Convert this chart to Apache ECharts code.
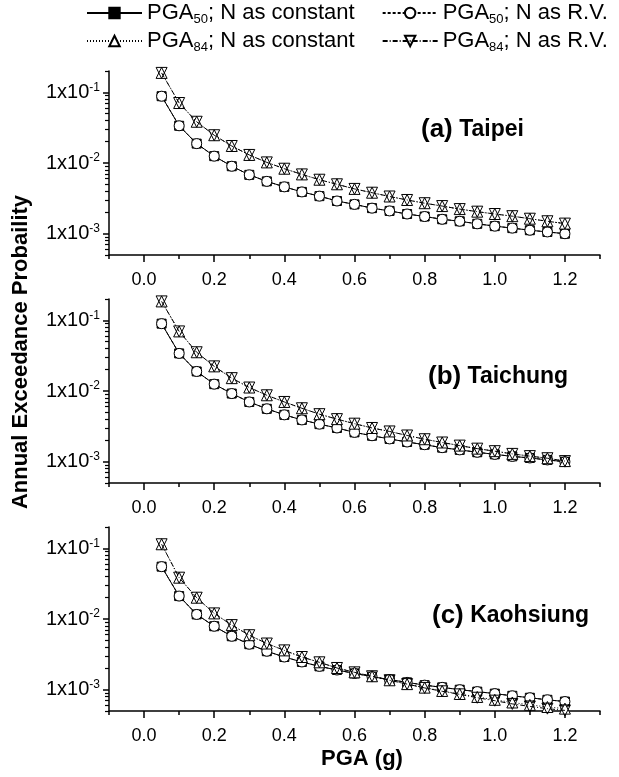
<!DOCTYPE html>
<html>
<head>
<meta charset="utf-8">
<script src="https://cdn.jsdelivr.net/npm/echarts@6/dist/echarts.min.js"></script>
<style>
  html, body { margin: 0; padding: 0; background: #fff; }
  #chart { width: 619px; height: 777px; }
</style>
</head>
<body>
<div id="chart"></div>
<script>
// Peak ground acceleration (g) at which the hazard curves are evaluated
const pga = [0.05, 0.10, 0.15, 0.20, 0.25, 0.30, 0.35, 0.40, 0.45, 0.50, 0.55, 0.60,
             0.65, 0.70, 0.75, 0.80, 0.85, 0.90, 0.95, 1.00, 1.05, 1.10, 1.15, 1.20];

// Annual exceedance probability — Taipei
const taipeiP50Const = [0.088, 0.0336, 0.0188, 0.0125, 0.0090, 0.0068, 0.0055, 0.0046, 0.0039, 0.0034, 0.0029, 0.0026,
                        0.0023, 0.0021, 0.0019, 0.00175, 0.0016, 0.0015, 0.00138, 0.00128, 0.0012, 0.00112, 0.00106, 0.0010];
const taipeiP50RV    = [0.088, 0.0336, 0.0188, 0.0125, 0.0090, 0.0068, 0.0055, 0.0046, 0.0039, 0.0034, 0.0029, 0.0026,
                        0.0023, 0.0021, 0.0019, 0.00175, 0.0016, 0.0015, 0.00138, 0.00128, 0.0012, 0.00112, 0.00106, 0.0010];
const taipeiP84Const = [0.188, 0.0705, 0.0383, 0.0247, 0.0174, 0.0130, 0.0102, 0.0083, 0.0069, 0.0058, 0.0050, 0.0043,
                        0.0038, 0.00336, 0.0030, 0.0027, 0.00246, 0.00223, 0.00205, 0.0019, 0.00177, 0.00163, 0.0015, 0.00139];
const taipeiP84RV    = [0.188, 0.0705, 0.0383, 0.0247, 0.0174, 0.0130, 0.0102, 0.0083, 0.0069, 0.0058, 0.0050, 0.0043,
                        0.0038, 0.00336, 0.0030, 0.0027, 0.00246, 0.00223, 0.00205, 0.0019, 0.00177, 0.00163, 0.0015, 0.00139];

// Annual exceedance probability — Taichung
const taichungP50Const = [0.0896, 0.034, 0.0189, 0.0125, 0.0092, 0.0070, 0.0056, 0.0046, 0.0039, 0.0034, 0.0030, 0.0026,
                          0.00233, 0.0021, 0.0019, 0.00174, 0.00158, 0.00147, 0.00136, 0.00127, 0.00119, 0.00113, 0.00106, 0.0010];
const taichungP50RV    = [0.0896, 0.034, 0.0189, 0.0125, 0.0092, 0.0070, 0.0056, 0.0046, 0.0039, 0.0034, 0.0030, 0.0026,
                          0.00233, 0.0021, 0.0019, 0.00174, 0.00158, 0.00147, 0.00136, 0.00127, 0.00119, 0.00113, 0.00106, 0.0010];
const taichungP84Const = [0.185, 0.0696, 0.0353, 0.0223, 0.0152, 0.0112, 0.0087, 0.0070, 0.0057, 0.0047, 0.0040, 0.00345,
                          0.0030, 0.00268, 0.00235, 0.00208, 0.00187, 0.00169, 0.00153, 0.00141, 0.00129, 0.0012, 0.00112, 0.00102];
const taichungP84RV    = [0.185, 0.0696, 0.0353, 0.0223, 0.0152, 0.0112, 0.0087, 0.0070, 0.0057, 0.0047, 0.0040, 0.00345,
                          0.0030, 0.00268, 0.00235, 0.00208, 0.00187, 0.00169, 0.00153, 0.00141, 0.00129, 0.0012, 0.00112, 0.00102];

// Annual exceedance probability — Kaohsiung
const kaohsiungP50Const = [0.055, 0.0211, 0.0116, 0.0079, 0.0057, 0.0044, 0.0035, 0.0029, 0.00247, 0.00214, 0.0019, 0.0017,
                           0.00153, 0.00139, 0.00127, 0.00116, 0.00108, 0.0010, 0.00094, 0.00088, 0.00082, 0.00077, 0.00072, 0.00068];
const kaohsiungP50RV    = [0.055, 0.0211, 0.0116, 0.0079, 0.0057, 0.0044, 0.0035, 0.0029, 0.00247, 0.00214, 0.0019, 0.0017,
                           0.00153, 0.00139, 0.00127, 0.00116, 0.00108, 0.0010, 0.00094, 0.00088, 0.00082, 0.00077, 0.00072, 0.00068];
const kaohsiungP84Const = [0.114, 0.0384, 0.020, 0.012, 0.0082, 0.0059, 0.0045, 0.0036, 0.0029, 0.00244, 0.00203, 0.00176,
                           0.00155, 0.00136, 0.0012, 0.00107, 0.00096, 0.00087, 0.00079, 0.00072, 0.00066, 0.00061, 0.00057, 0.00054];
const kaohsiungP84RV    = [0.114, 0.0384, 0.020, 0.012, 0.0082, 0.0059, 0.0045, 0.0036, 0.0029, 0.00244, 0.00203, 0.00176,
                           0.00155, 0.00136, 0.0012, 0.00106, 0.00095, 0.00086, 0.00077, 0.0007, 0.00063, 0.00058, 0.00054, 0.00051];

// Axis tick positions
const xMajorTicks = [0, 0.2, 0.4, 0.6, 0.8, 1.0, 1.2];
const xMinorTicks = [-0.1, 0.1, 0.3, 0.5, 0.7, 0.9, 1.1, 1.3];
const yMajorTicks = [0.001, 0.01, 0.1];
const yMinorTicks = [0.0005, 0.0006, 0.0007, 0.0008, 0.0009,
                     0.002, 0.003, 0.004, 0.005, 0.006, 0.007, 0.008, 0.009,
                     0.02, 0.03, 0.04, 0.05, 0.06, 0.07, 0.08, 0.09, 0.2];

const panelTitles = [['(a)', 'Taipei'], ['(b)', 'Taichung'], ['(c)', 'Kaohsiung']];
const panelData = [
  [taipeiP50Const, taipeiP50RV, taipeiP84Const, taipeiP84RV],
  [taichungP50Const, taichungP50RV, taichungP84Const, taichungP84RV],
  [kaohsiungP50Const, kaohsiungP50RV, kaohsiungP84Const, kaohsiungP84RV]
];

const seriesNames = ['p50c', 'p50rv', 'p84c', 'p84rv'];
const legendText = {
  p50c:  '{m|PGA}{s|50}{m|; N as constant}',
  p50rv: '{m|PGA}{s|50}{m|; N as R.V.}',
  p84c:  '{m|PGA}{s|84}{m|; N as constant}',
  p84rv: '{m|PGA}{s|84}{m|; N as R.V.}'
};

const FONT = 'Liberation Sans, Arial, Helvetica, sans-serif';
const INK = '#000';

const gridTops = [71, 299, 527];
const gridHeight = 184;

const seriesStyle = [
  { symbol: 'rect', symbolSize: 9, fill: INK, dash: 'solid' },
  { symbol: 'circle', symbolSize: 10, fill: '#fff', dash: [3, 2] },
  { symbol: 'triangle', symbolSize: 11, fill: '#fff', dash: [1, 2] },
  { symbol: 'path://M0,0 L10,0 L5,9 Z', symbolSize: 11, fill: 'rgba(255,255,255,0)', dash: [5, 2, 1, 2] }
];

const grids = [], xAxes = [], yAxes = [], series = [], titles = [];

gridTops.forEach((top, i) => {
  grids.push({ left: 109, right: 19, top: top, height: gridHeight });

  // labelled x axis with major ticks
  xAxes.push({
    gridIndex: i, type: 'value', position: 'bottom', min: -0.1, max: 1.3,
    axisLine: { show: true, onZero: false, lineStyle: { color: INK, width: 1.5 } },
    axisTick: { show: true, customValues: xMajorTicks, length: 7, lineStyle: { color: INK, width: 1.5 } },
    axisLabel: { customValues: xMajorTicks, formatter: v => v.toFixed(1), color: INK,
                 fontFamily: FONT, fontSize: 18, margin: 16 },
    splitLine: { show: false }
  });
  // minor ticks
  xAxes.push({
    gridIndex: i, type: 'value', position: 'bottom', min: -0.1, max: 1.3,
    axisLine: { show: false, onZero: false },
    axisTick: { show: true, customValues: xMinorTicks, length: 4, lineStyle: { color: INK, width: 1.5 } },
    axisLabel: { show: false },
    splitLine: { show: false }
  });

  // labelled log axis with decade ticks
  yAxes.push({
    gridIndex: i, type: 'log', logBase: 10, position: 'left', min: 0.0005, max: 0.2,
    axisLine: { show: true, onZero: false, lineStyle: { color: INK, width: 1.5 } },
    axisTick: { show: true, customValues: yMajorTicks, length: 6, lineStyle: { color: INK, width: 1.5 } },
    axisLabel: {
      customValues: yMajorTicks, margin: 9, color: INK,
      formatter: v => '{b|1x10}{s|' + Math.round(Math.log10(v)) + '}',
      rich: {
        b: { fontFamily: FONT, fontSize: 20, color: INK, lineHeight: 22 },
        s: { fontFamily: FONT, fontSize: 12, color: INK, lineHeight: 12, verticalAlign: 'top' }
      }
    },
    splitLine: { show: false }
  });
  // minor ticks within each decade
  yAxes.push({
    gridIndex: i, type: 'log', logBase: 10, position: 'left', min: 0.0005, max: 0.2,
    axisLine: { show: false, onZero: false },
    axisTick: { show: true, customValues: yMinorTicks, length: 4, lineStyle: { color: INK, width: 1.2 } },
    axisLabel: { show: false },
    splitLine: { show: false }
  });

  panelData[i].forEach((vals, k) => {
    const st = seriesStyle[k];
    series.push({
      name: seriesNames[k], type: 'line',
      xAxisIndex: i * 2, yAxisIndex: i * 2,
      data: pga.map((x, j) => [x, vals[j]]),
      symbol: st.symbol, symbolSize: st.symbolSize, showAllSymbol: true,
      lineStyle: { color: INK, width: 1, type: st.dash },
      itemStyle: { color: st.fill, borderColor: INK, borderWidth: 1 },
      emphasis: { disabled: true },
      animation: false, z: 2 + k
    });
  });
});

const titlePos = [
  { left: 421, top: 116 },
  { left: 428, top: 363 },
  { left: 432, top: 602 }
];
panelTitles.forEach((t, i) => {
  titles.push({
    text: '{p|' + t[0] + '}{n| ' + t[1] + '}',
    left: titlePos[i].left, top: titlePos[i].top, padding: 0,
    textStyle: {
      rich: {
        p: { fontFamily: FONT, fontSize: 26, fontWeight: 'bold', color: INK, lineHeight: 28 },
        n: { fontFamily: FONT, fontSize: 23, fontWeight: 'bold', color: INK, lineHeight: 28 }
      }
    }
  });
});

const legendRich = {
  m: { fontFamily: FONT, fontSize: 22, color: INK, lineHeight: 26 },
  s: { fontFamily: FONT, fontSize: 13, color: INK, lineHeight: 12, verticalAlign: 'bottom' }
};
const legendBase = {
  orient: 'horizontal', left: 86, padding: 0, itemWidth: 55, itemHeight: 13, itemGap: 27,
  formatter: name => legendText[name],
  textStyle: { rich: legendRich },
  selectedMode: false
};

const chart = echarts.init(document.getElementById('chart'), null, { renderer: 'canvas' });
chart.setOption({
  backgroundColor: '#fff',
  animation: false,
  title: titles,
  legend: [
    Object.assign({}, legendBase, { top: 2, data: ['p50c', 'p50rv'] }),
    Object.assign({}, legendBase, { top: 30, data: ['p84c', 'p84rv'] })
  ],
  grid: grids,
  xAxis: xAxes,
  yAxis: yAxes,
  series: series,
  graphic: [
    {
      type: 'text', x: 21, y: 352, rotation: Math.PI / 2,
      style: {
        text: 'Annual Exceedance Probaility', fill: INK,
        font: 'bold 22px ' + FONT, textAlign: 'center', textVerticalAlign: 'middle'
      }
    },
    {
      type: 'text', x: 362, y: 759,
      style: {
        text: 'PGA (g)', fill: INK,
        font: 'bold 22px ' + FONT, textAlign: 'center', textVerticalAlign: 'middle'
      }
    }
  ]
});
</script>
</body>
</html>
